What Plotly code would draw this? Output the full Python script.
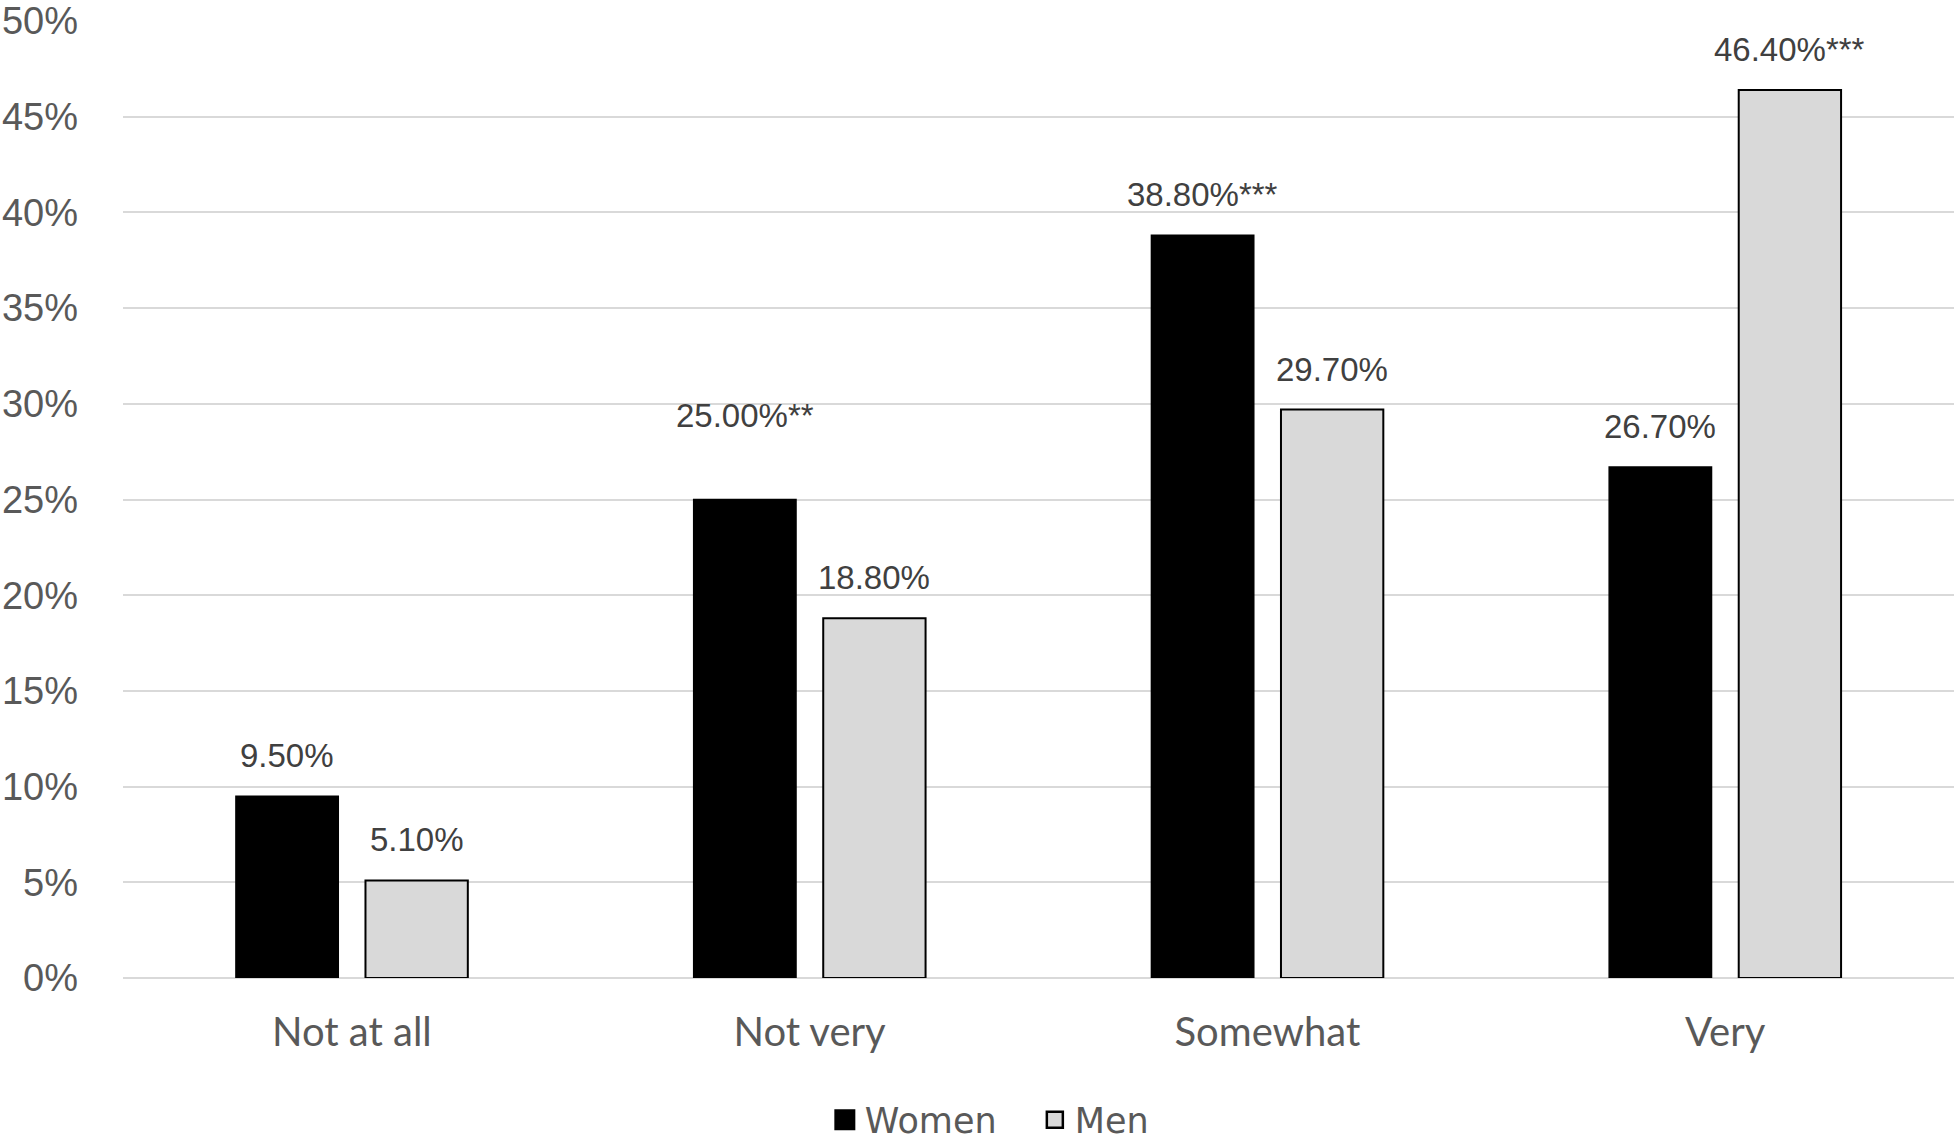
import plotly.graph_objects as go

categories = ["Not at all", "Not very", "Somewhat", "Very"]
women = [0.095, 0.250, 0.388, 0.267]
men = [0.051, 0.188, 0.297, 0.464]
women_labels = ["9.50%", "25.00%**", "38.80%***", "26.70%"]
men_labels = ["5.10%", "18.80%", "29.70%", "46.40%***"]
tick_vals = [0, 0.05, 0.10, 0.15, 0.20, 0.25, 0.30, 0.35, 0.40, 0.45, 0.50]
tick_text = ["0%", "5%", "10%", "15%", "20%", "25%", "30%", "35%", "40%", "45%", "50%"]

# layout / style constants
W, H = 1958, 1143
ML, MR, MT, MB = 123, 4, 21, 165
BARGAP = 0.434
BARGROUPGAP = 0.21
LABEL_FONT = dict(family="Liberation Sans, Arial, sans-serif", size=33, color="#404040")
CAT_FONT = dict(family="Lato, sans-serif", size=40, color="#595959")
LEG_FONT = dict(family="DejaVu Sans, sans-serif", size=35, color="#595959")
TICK_FONT = dict(family="Liberation Sans, Arial, sans-serif", size=38, color="#595959")
GRID = "#D9D9D9"
LABEL_LIFT = 20
EXTRA_LIFT = {("Women", "Not very"): 44}

plot_w = W - ML - MR
cat_w = plot_w / len(categories)
slot = cat_w * (1 - BARGAP) / 2

fig = go.Figure()
fig.add_trace(go.Bar(name="Women", x=categories, y=women,
                     marker=dict(color="#000000", line=dict(color="#000000", width=1.5)),
                     showlegend=False))
fig.add_trace(go.Bar(name="Men", x=categories, y=men,
                     marker=dict(color="#D9D9D9", line=dict(color="#000000", width=2)),
                     showlegend=False))

# legend proxies
fig.add_trace(go.Scatter(name="Women", x=[None], y=[None], mode="markers",
                         marker=dict(symbol="square", size=20, color="#000000",
                                     line=dict(color="#000000", width=5))))
fig.add_trace(go.Scatter(name="Men", x=[None], y=[None], mode="markers",
                         marker=dict(symbol="square", size=20, color="#D9D9D9",
                                     line=dict(color="#000000", width=2.5))))

annotations = []
for name, vals, labels, sign in [("Women", women, women_labels, -1), ("Men", men, men_labels, 1)]:
    for c, v, t in zip(categories, vals, labels):
        annotations.append(dict(
            x=c, y=v, xref="x", yref="y", text=t, showarrow=False,
            xanchor="center", yanchor="bottom",
            xshift=sign * slot / 2,
            yshift=LABEL_LIFT + EXTRA_LIFT.get((name, c), 0),
            font=LABEL_FONT,
        ))

fig.update_layout(
    width=W, height=H,
    margin=dict(l=ML, r=MR, t=MT, b=MB, autoexpand=False),
    paper_bgcolor="white", plot_bgcolor="white",
    barmode="group", bargap=BARGAP, bargroupgap=BARGROUPGAP,
    annotations=annotations,
    legend=dict(orientation="h", x=0.498, xanchor="center", y=-0.1484, yanchor="middle",
                font=LEG_FONT, itemsizing="trace", traceorder="normal",
                entrywidth=165, entrywidthmode="pixels"),
    xaxis=dict(showgrid=False, showline=False, zeroline=False, tickfont=CAT_FONT,
               ticks="", ticklabelstandoff=27),
    yaxis=dict(range=[0, 0.5], tickvals=tick_vals, ticktext=tick_text,
               showgrid=True, gridcolor=GRID, gridwidth=2,
               zeroline=True, zerolinecolor=GRID, zerolinewidth=2,
               showline=False, tickfont=TICK_FONT, ticks="", ticklabelstandoff=44),
)

fig.write_html("out.html",
               config={"displayModeBar": False},
               post_script="document.body.style.margin='0';document.body.style.overflow='hidden';")
